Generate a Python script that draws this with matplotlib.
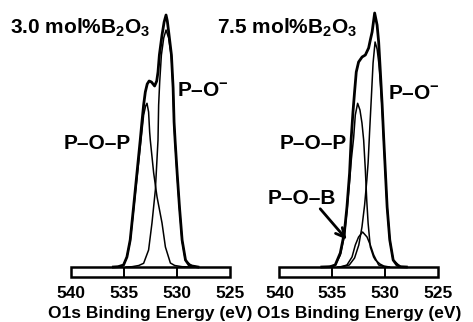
import matplotlib
matplotlib.use("Agg")
import matplotlib.pyplot as plt
from matplotlib.patches import Rectangle

plt.rcParams['font.family'] = ['Liberation Sans', 'DejaVu Sans']
plt.rcParams['font.weight'] = 'bold'
plt.rcParams['mathtext.fontset'] = 'custom'
plt.rcParams['mathtext.rm'] = 'Liberation Sans:bold'
plt.rcParams['mathtext.bf'] = 'Liberation Sans:bold'
plt.rcParams['mathtext.it'] = 'Liberation Sans:bold'
plt.rcParams['mathtext.default'] = 'bf'

# ---- 3.0 mol% B2O3 (binding energy in eV, intensity in arb. units) ----
tot30_E = [536.0, 535.55, 535.04, 534.72, 534.41, 534.09, 533.77, 533.46, 533.30, 533.14, 532.98, 532.80,
           532.62, 532.40, 532.10, 531.90, 531.78, 531.65, 531.40, 531.20, 531.02, 530.90, 530.77, 530.51,
           530.35, 530.26, 530.16, 529.97, 529.75, 529.50, 529.18, 528.85, 528.55, 528.0]
tot30_I = [0, 0.3, 2, 10, 27, 60, 94, 127, 145, 162, 175, 183,
           186, 185, 181, 186, 195, 212, 232, 245, 252, 246, 235, 212,
           179, 145, 126, 94, 60, 27, 7, 2, 1, 0]
pop30_E = [536.0, 535.3, 535.04, 534.72, 534.41, 534.09, 533.77, 533.46, 533.14, 532.95, 532.82, 532.67,
           532.57, 532.51, 532.19, 531.87, 531.40, 531.08, 530.61, 530.2, 529.5, 528.5]
pop30_I = [0, 0.5, 2, 10, 26, 57, 89, 120, 152, 161, 163.7, 155,
           135, 127, 94, 70, 44, 20, 4, 1.5, 0.3, 0]
poo30_E = [534.8, 534.24, 533.6, 533.14, 532.67, 532.35, 532.03, 531.78, 531.72, 531.62, 531.46, 531.24,
           531.02, 530.77, 530.51, 530.35, 530.26, 530.16, 529.97, 529.75, 529.50, 529.18, 528.55, 528.0]
poo30_I = [0, 0.3, 1.5, 3.7, 17, 44, 77, 127, 162, 185, 212, 229,
           237, 229, 210, 177, 143, 124, 92, 59, 26, 6.5, 0.8, 0]

# ---- 7.5 mol% B2O3 ----
tot75_E = [536.0, 535.20, 534.73, 534.25, 533.87, 533.62, 533.37, 533.22, 533.05, 532.90, 532.74, 532.52,
           532.19, 531.88, 531.57, 531.41, 531.24, 531.00, 530.77, 530.62, 530.46, 530.29, 530.14, 529.98,
           529.82, 529.57, 529.25, 528.9, 528.56, 528.0]
tot75_I = [0, 0.3, 2, 14, 34, 60, 94, 128, 155, 175, 195, 205,
           210, 212, 219, 227, 235, 254, 242, 225, 195, 162, 128, 94,
           60, 27, 7, 2, 0.3, 0]
pop75_E = [536.0, 535.3, 534.73, 534.25, 533.87, 533.62, 533.37, 533.20, 532.99, 532.83, 532.61, 532.39,
           532.20, 532.04, 531.88, 531.75, 531.62, 531.41, 531.10, 530.93, 530.50, 530.14, 529.6]
pop75_I = [0, 0.3, 2, 12, 31, 56, 86, 108, 129, 152, 163.7, 157,
           144, 127, 97, 67, 44, 20, 10, 7, 3, 1, 0]
poo75_E = [534.5, 534.0, 533.4, 532.9, 532.5, 532.2, 531.95, 531.74, 531.62, 531.47, 531.31, 531.15,
           530.96, 530.77, 530.62, 530.46, 530.29, 530.14, 529.98, 529.82, 529.57, 529.25, 528.56, 528.0]
poo75_I = [0, 0.5, 2, 9, 22, 40, 62, 87, 104, 137, 170, 204,
           225, 218, 205, 185, 158, 126, 93, 60, 27, 7, 0.3, 0]
pob75_E = [534.25, 533.62, 533.14, 532.83, 532.52, 532.14, 531.72, 531.41, 531.09, 530.62, 529.98]
pob75_I = [0, 2, 10, 22, 30, 35, 30, 22, 12, 2, 0]

ticks = [540, 535, 530, 525]
xlabel = 'O1s Binding Energy (eV)'

fig = plt.figure(figsize=(4.73, 3.22), dpi=100)
ax1 = fig.add_axes([0.1503, 0.1413, 0.3353, 0.8587])
ax2 = fig.add_axes([0.5909, 0.1413, 0.3353, 0.8587])

box_h = 9.5
for ax in (ax1, ax2):
    ax.set_xlim(540, 525)
    ax.set_ylim(-box_h, 267)
    for s in ax.spines.values():
        s.set_visible(False)
    ax.set_yticks([])
    ax.set_xticks(ticks)
    ax.set_xticklabels([str(t) for t in ticks], fontsize=12.5, fontweight='bold')
    ax.tick_params(axis='x', length=0, pad=6.5)
    ax.set_xlabel(xlabel, fontsize=12.5, fontweight='bold', labelpad=4)
    ax.add_patch(Rectangle((525, -box_h), 15, box_h, fill=False, edgecolor='black', lw=1.8, clip_on=False))
    ax.vlines([535, 530], -box_h, 0, color='black', lw=1.4)

ax1.plot(tot30_E, tot30_I, color='black', lw=2.0, solid_joinstyle='round')
ax1.plot(pop30_E, pop30_I, color='black', lw=1.1)
ax1.plot(poo30_E, poo30_I, color='black', lw=1.1)

ax2.plot(tot75_E, tot75_I, color='black', lw=2.0, solid_joinstyle='round')
ax2.plot(pop75_E, pop75_I, color='black', lw=1.1)
ax2.plot(poo75_E, poo75_I, color='black', lw=1.1)
ax2.plot(pob75_E, pob75_I, color='black', lw=1.1)

lab = dict(fontsize=15, fontweight='bold', ha='center', va='center')
ax1.text(527.57, 177, r'P–O$^{-}$', **lab)
ax1.text(537.49, 124, 'P–O–P', **lab)
ax2.text(527.32, 174, r'P–O$^{-}$', **lab)
ax2.text(536.82, 124, 'P–O–P', **lab)
ax2.text(537.86, 69, 'P–O–B', **lab)
ax2.annotate('', xy=(533.47, 25.3), xytext=(536.32, 60.3),
             arrowprops=dict(arrowstyle='->', lw=2.0, color='black', mutation_scale=16))

fig.text(10 / 473, 1 - 28 / 322, r'3.0 mol%B$_2$O$_3$', fontsize=15, fontweight='bold', ha='left', va='center')
fig.text(216.7 / 473, 1 - 28 / 322, r'7.5 mol%B$_2$O$_3$', fontsize=15, fontweight='bold', ha='left', va='center')

fig.savefig('out.png', dpi=100)
